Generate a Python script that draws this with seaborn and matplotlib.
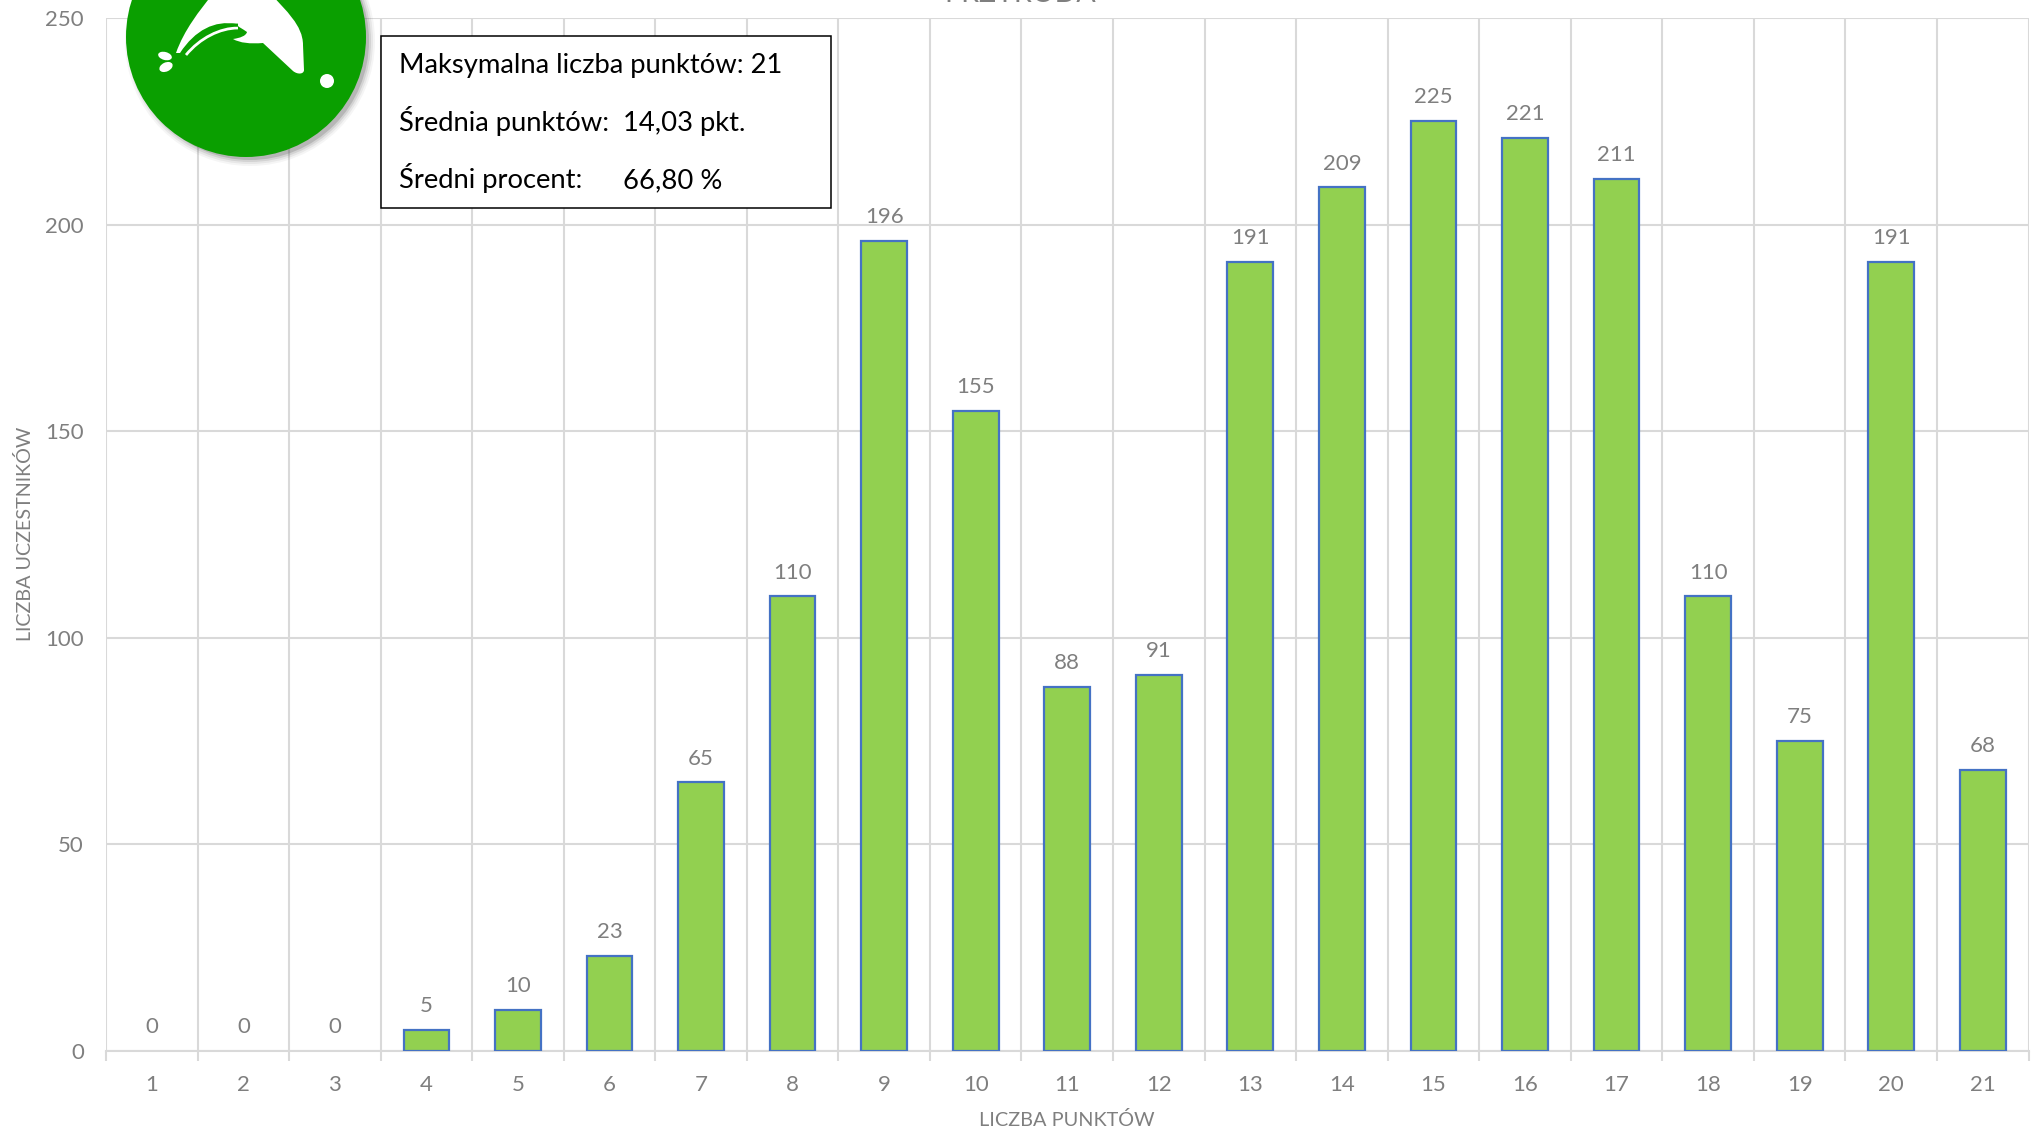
import matplotlib
matplotlib.use("Agg")
import matplotlib.pyplot as plt
import seaborn as sns
import pandas as pd
from matplotlib.patches import Circle, Ellipse, PathPatch, Rectangle
from matplotlib.path import Path

points = list(range(1, 22))
counts = [0, 0, 0, 5, 10, 23, 65, 110, 196, 155, 88, 91, 191, 209, 225, 221, 211, 110, 75, 191, 68]
y_ticks = [0, 50, 100, 150, 200, 250]
info_lines = ["Maksymalna liczba punktów: 21", "Średnia punktów:", "Średni procent:"]
info_values = ["", "14,03 pkt.", "66,80 %"]

W, H = 2035, 1132
GREY = "#7f7f7f"
GRID = "#d9d9d9"
GREEN = "#0a9f00"
LEFT, RIGHT, TOP, BOTTOM = 106, 2028.5, 18, 1051

sns.set_theme(style="white")
plt.rcParams['font.family'] = ['Lato', 'DejaVu Sans']

fig = plt.figure(figsize=(W / 100, H / 100), dpi=100)
ax = fig.add_axes([LEFT / W, 1 - BOTTOM / H, (RIGHT - LEFT) / W, (BOTTOM - TOP) / H])

df = pd.DataFrame({"pts": [str(p) for p in points], "n": counts})
sns.barplot(data=df, x="pts", y="n", color="#92d050", saturation=1, width=0.5,
            edgecolor="#4472c4", linewidth=1.6, ax=ax, zorder=3)
# empty bars would leave a blue line on the axis
for bar in ax.patches:
    if bar.get_height() == 0:
        bar.set_visible(False)

ax.set_xlim(-0.5, 20.5)
ax.set_ylim(0, 250)
ax.set_yticks(y_ticks)
ax.set_xticks([i - 0.5 for i in range(22)], minor=True)
ax.grid(True, axis="y", color=GRID, lw=1.5, zorder=0)
ax.grid(True, axis="x", which="minor", color=GRID, lw=1.5, zorder=0)
ax.grid(False, axis="x", which="major")
for s in ["top", "right", "left"]:
    ax.spines[s].set_visible(False)
ax.spines["bottom"].set_color(GRID)
ax.spines["bottom"].set_linewidth(1.5)
ax.tick_params(axis="x", which="minor", length=7, width=1.5, color=GRID, bottom=True)
ax.tick_params(axis="x", which="major", length=0, pad=17, labelsize=16, labelcolor=GREY)
ax.tick_params(axis="y", length=0, pad=16, labelsize=16, labelcolor=GREY)
ax.set_xlabel("")
ax.set_ylabel("")

for i, v in enumerate(counts):
    ax.annotate(str(v), (i, v), xytext=(0, 10), textcoords="offset points", ha="center",
                va="bottom", fontsize=16, color=GREY)

# title is cut off by the top edge of the image
fig.text(1020 / W, 1 - 2 / H, "PRZYRODA", ha="center", va="baseline", fontsize=20.5, color=GREY)
fig.text(1067 / W, 1 - 1120 / H, "LICZBA PUNKTÓW", ha="center", va="center", fontsize=14.3, color=GREY)
fig.text(25 / W, 1 - 534 / H, "LICZBA UCZESTNIKÓW", ha="center", va="center", rotation=90,
         fontsize=14.2, color=GREY)

# everything below is placed in pixels (y down)
ov = fig.add_axes([0, 0, 1, 1], zorder=10)
ov.set_xlim(0, W)
ov.set_ylim(H, 0)
ov.axis("off")
ov.patch.set_alpha(0)

# logo
for r, a in [(125, 0.05), (123, 0.08), (121, 0.12), (119, 0.2)]:
    ov.add_patch(Circle((250, 41), r, fc="#444444", ec="none", alpha=a))
ov.add_patch(Circle((246, 37), 120, fc=GREEN, ec="none"))
body = Path(
    [(176, 53), (184, 30), (200, 10), (212, -5), (272, -5),
     (285, 10), (303, 25), (303, 45), (304, 70),
     (304, 74), (298, 75), (293, 71), (263, 43),
     (250, 44), (240, 43), (233, 39),
     (240, 38), (246, 36), (247, 32),
     (243, 29), (238, 27), (236, 24),
     (215, 20), (195, 30), (180, 53), (176, 53)],
    [Path.MOVETO, Path.CURVE4, Path.CURVE4, Path.CURVE4, Path.LINETO,
     Path.CURVE4, Path.CURVE4, Path.CURVE4, Path.LINETO,
     Path.CURVE4, Path.CURVE4, Path.CURVE4, Path.LINETO,
     Path.CURVE4, Path.CURVE4, Path.CURVE4,
     Path.CURVE4, Path.CURVE4, Path.CURVE4,
     Path.CURVE4, Path.CURVE4, Path.CURVE4,
     Path.CURVE4, Path.CURVE4, Path.CURVE4, Path.CLOSEPOLY])
ov.add_patch(PathPatch(body, fc="white", ec="none"))
strip = Path([(186, 55), (200, 38), (220, 28), (238, 28)], [Path.MOVETO, Path.CURVE4, Path.CURVE4, Path.CURVE4])
ov.add_patch(PathPatch(strip, fc="none", ec="white", lw=2))
ov.add_patch(PathPatch(Path([(182, 54), (196, 34), (216, 24), (238, 25)],
                            [Path.MOVETO, Path.CURVE4, Path.CURVE4, Path.CURVE4]),
                       fc="none", ec=GREEN, lw=2))
ov.add_patch(Ellipse((165, 56), 14, 8, angle=15, fc="white", ec="none"))
ov.add_patch(Ellipse((166, 67), 14, 9, angle=-25, fc="white", ec="none"))
ov.add_patch(Circle((327, 81), 7, fc="white", ec="none"))

# info box
ov.add_patch(Rectangle((380.5, 36), 450, 172, fc="white", ec="black", lw=1.1))
for y, line, val in zip([73, 131, 188], info_lines, info_values):
    ov.text(399, y, line, fontsize=19.7, color="black", va="baseline", ha="left")
    if val:
        ov.text(623, y, val, fontsize=19.7, color="black", va="baseline", ha="left")

fig.savefig("out.png", dpi=100)
